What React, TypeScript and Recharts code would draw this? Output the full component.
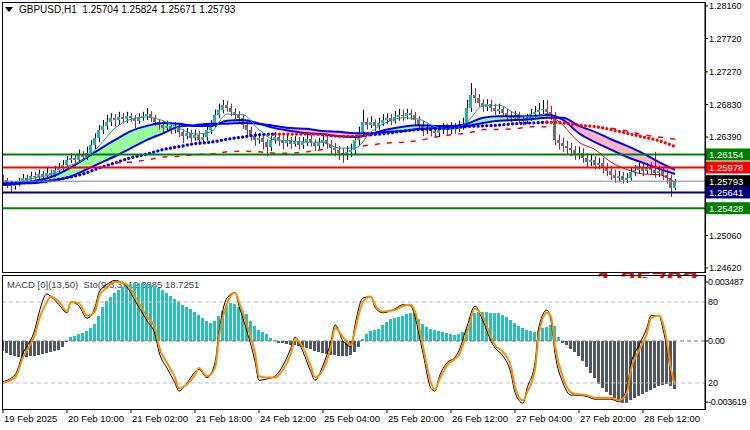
import { Area, Bar, Cell, ComposedChart, Line, ReferenceLine, XAxis, YAxis } from "recharts";

const FONT = "'Liberation Sans', Arial, sans-serif";

// GBPUSD H1, bar 0 = 19 Feb 18:00, one bar per hour
const firstOpen = 1.2584;
const closes = [
  1.2581, 1.2577, 1.2573, 1.2576, 1.258, 1.2584, 1.2581, 1.2586, 1.2585, 1.2589,
  1.2586, 1.259, 1.2588, 1.2595, 1.2597, 1.2601, 1.2608, 1.2611, 1.2608, 1.2615,
  1.2612, 1.2617, 1.2628, 1.2638, 1.2649, 1.2654, 1.2659, 1.2665, 1.2662, 1.2666,
  1.2663, 1.2667, 1.2665, 1.2661, 1.2666, 1.2667, 1.267, 1.2665, 1.2659, 1.2655,
  1.2651, 1.2654, 1.2649, 1.2653, 1.2646, 1.264, 1.2644, 1.2638, 1.2642, 1.2635,
  1.2639, 1.2649, 1.2655, 1.2669, 1.2676, 1.2682, 1.2678, 1.2673, 1.2669, 1.2665,
  1.2655, 1.2649, 1.264, 1.2635, 1.2638, 1.2632, 1.2626, 1.2635, 1.2639, 1.2635,
  1.2631, 1.2635, 1.263, 1.2634, 1.2628, 1.2632, 1.2636, 1.2631, 1.2627, 1.2631,
  1.2635, 1.263, 1.2624, 1.2622, 1.2617, 1.2615, 1.2619, 1.2622, 1.2635, 1.2646,
  1.2659, 1.2655, 1.2659, 1.2654, 1.2658, 1.2662, 1.2665, 1.2661, 1.2666, 1.2669,
  1.2667, 1.2671, 1.2669, 1.2662, 1.2655, 1.2649, 1.2651, 1.2647, 1.2644, 1.2649,
  1.2651, 1.2649, 1.2653, 1.265, 1.2654, 1.2657, 1.2678, 1.2696, 1.2692, 1.2685,
  1.268, 1.2684, 1.2678, 1.2674, 1.2677, 1.2671, 1.2667, 1.2665, 1.2669, 1.2663,
  1.2661, 1.2665, 1.267, 1.2673, 1.2676, 1.2677, 1.2673, 1.2667, 1.2635, 1.2631,
  1.2627, 1.2624, 1.2622, 1.2616, 1.2617, 1.2611, 1.2605, 1.2608, 1.2601, 1.2604,
  1.2597, 1.2593, 1.2588, 1.2584, 1.2586, 1.2581, 1.2584, 1.2592, 1.2595, 1.2597,
  1.2593, 1.2597, 1.2595, 1.259, 1.2593, 1.2588, 1.2584, 1.25704, 1.25793,
];
const highs = [
  1.2588, 1.2584, 1.258, 1.2578, 1.2584, 1.2589, 1.2588, 1.2592, 1.2592, 1.2595,
  1.2593, 1.2597, 1.2595, 1.26, 1.2604, 1.2608, 1.2613, 1.2617, 1.2615, 1.2622,
  1.262, 1.2626, 1.2635, 1.2644, 1.2655, 1.2662, 1.2669, 1.2671, 1.267, 1.2673,
  1.2671, 1.2673, 1.2671, 1.2669, 1.2671, 1.2673, 1.2678, 1.2674, 1.2669, 1.2663,
  1.2661, 1.2661, 1.2658, 1.2659, 1.2657, 1.265, 1.2651, 1.2649, 1.2649, 1.2647,
  1.2644, 1.2654, 1.2662, 1.2676, 1.2684, 1.2689, 1.2688, 1.2684, 1.2678, 1.2674,
  1.267, 1.2661, 1.2653, 1.2646, 1.2644, 1.2643, 1.2636, 1.264, 1.2646, 1.2644,
  1.264, 1.2642, 1.2639, 1.264, 1.2639, 1.2639, 1.2643, 1.2642, 1.2636, 1.2638,
  1.2643, 1.264, 1.2635, 1.2631, 1.2627, 1.2624, 1.2627, 1.263, 1.2642, 1.2653,
  1.2676, 1.2665, 1.2667, 1.2663, 1.2665, 1.267, 1.2671, 1.267, 1.2674, 1.2677,
  1.2676, 1.2677, 1.2676, 1.2673, 1.2667, 1.2661, 1.2657, 1.2655, 1.2653, 1.2654,
  1.2658, 1.2657, 1.2659, 1.2658, 1.2661, 1.2665, 1.2689, 1.2712, 1.2705, 1.2697,
  1.269, 1.269, 1.2689, 1.2684, 1.2684, 1.2681, 1.2677, 1.2673, 1.2674, 1.2673,
  1.2669, 1.267, 1.2677, 1.2681, 1.2685, 1.2689, 1.2689, 1.2681, 1.2673, 1.2642,
  1.2638, 1.2634, 1.2631, 1.2627, 1.2626, 1.2624, 1.2617, 1.2615, 1.2613, 1.2611,
  1.2611, 1.2604, 1.26, 1.2595, 1.2593, 1.2592, 1.259, 1.2597, 1.2601, 1.2604,
  1.2603, 1.2604, 1.2605, 1.2619, 1.26, 1.2599, 1.2595, 1.2588, 1.25824,
];
const lows = [
  1.2576, 1.257, 1.2565, 1.2568, 1.2573, 1.2576, 1.2577, 1.2578, 1.258, 1.2581,
  1.2581, 1.2582, 1.2584, 1.2585, 1.259, 1.2593, 1.2599, 1.2604, 1.2603, 1.2604,
  1.2607, 1.2608, 1.2613, 1.2623, 1.2632, 1.2643, 1.2649, 1.2654, 1.2653, 1.2655,
  1.2657, 1.2658, 1.2659, 1.2651, 1.2657, 1.2661, 1.2662, 1.2659, 1.2654, 1.2649,
  1.2644, 1.2647, 1.2643, 1.2644, 1.2639, 1.2631, 1.2636, 1.2632, 1.2634, 1.2628,
  1.263, 1.2634, 1.2643, 1.2651, 1.2665, 1.2671, 1.2673, 1.2667, 1.2663, 1.2659,
  1.265, 1.2642, 1.2634, 1.2627, 1.263, 1.2622, 1.2613, 1.262, 1.263, 1.2627,
  1.2622, 1.2626, 1.2623, 1.2626, 1.2622, 1.2623, 1.2627, 1.2626, 1.262, 1.2622,
  1.2626, 1.2623, 1.2616, 1.2613, 1.2608, 1.2604, 1.2608, 1.2612, 1.2616, 1.2628,
  1.2642, 1.2649, 1.2651, 1.2647, 1.2649, 1.2654, 1.2657, 1.2655, 1.2657, 1.2661,
  1.2661, 1.2663, 1.2662, 1.2655, 1.2649, 1.264, 1.2643, 1.264, 1.2638, 1.2639,
  1.2643, 1.2642, 1.2643, 1.2643, 1.2646, 1.2649, 1.2653, 1.2673, 1.2685, 1.268,
  1.2673, 1.2674, 1.2673, 1.2669, 1.267, 1.2666, 1.2662, 1.2659, 1.2661, 1.2658,
  1.2655, 1.2657, 1.2661, 1.2665, 1.2667, 1.267, 1.2667, 1.2662, 1.2628, 1.2622,
  1.2619, 1.2616, 1.2613, 1.2608, 1.2609, 1.2604, 1.2597, 1.26, 1.2595, 1.2596,
  1.259, 1.2586, 1.2581, 1.2577, 1.2578, 1.2576, 1.2577, 1.258, 1.2586, 1.2589,
  1.2586, 1.2589, 1.2588, 1.2584, 1.2585, 1.2581, 1.2576, 1.2558, 1.25671,
];

// indicator samples every 4 bars
const maIdx = [
  0, 4, 8, 12, 16, 20, 24, 28, 32, 36, 40, 44, 48, 52, 56, 60, 64, 68, 72, 76, 80, 84,
  88, 92, 96, 100, 104, 108, 112, 116, 120, 124, 128, 132, 136, 140, 144, 148, 152, 156,
  160, 164, 168,
];
const fastMa = [
  1.2578, 1.2578, 1.2584, 1.2588, 1.2599, 1.2608, 1.2627, 1.2651, 1.2663, 1.2666,
  1.2661, 1.2651, 1.2643, 1.2646, 1.267, 1.2669, 1.2649, 1.2635, 1.2634, 1.2632,
  1.2632, 1.2624, 1.2624, 1.2646, 1.2659, 1.2665, 1.2663, 1.2653, 1.265, 1.2659,
  1.2681, 1.2682, 1.2671, 1.2666, 1.2671, 1.2655, 1.2632, 1.2622, 1.2605, 1.2595,
  1.2589, 1.2588, 1.2578,
];
const cloudFast = [
  1.2577, 1.2577, 1.258, 1.2585, 1.2595, 1.2608, 1.2622, 1.2635, 1.2647, 1.2654,
  1.2658, 1.2657, 1.2654, 1.2654, 1.2661, 1.2662, 1.2657, 1.2651, 1.2647, 1.2644,
  1.2643, 1.264, 1.2639, 1.2643, 1.2649, 1.2653, 1.2655, 1.2654, 1.2654, 1.2657,
  1.2665, 1.2667, 1.2667, 1.2667, 1.2669, 1.2662, 1.2644, 1.2632, 1.2622, 1.2612,
  1.2604, 1.2596, 1.2589,
];
const cloudSlow = [
  1.2574, 1.2576, 1.2577, 1.258, 1.2584, 1.2593, 1.2603, 1.2613, 1.2624, 1.2635,
  1.2644, 1.2653, 1.2655, 1.2657, 1.2657, 1.2658, 1.2657, 1.2654, 1.2651, 1.265,
  1.2647, 1.2646, 1.2644, 1.2644, 1.2646, 1.2647, 1.265, 1.2651, 1.2653, 1.2654,
  1.2658, 1.2661, 1.2662, 1.2663, 1.2665, 1.2665, 1.2654, 1.2646, 1.2636, 1.2627,
  1.2617, 1.2605, 1.2595,
];
const slowMa = [
  1.2576, 1.2577, 1.2578, 1.258, 1.2584, 1.2589, 1.2597, 1.2604, 1.2611, 1.2616,
  1.2622, 1.2626, 1.263, 1.2632, 1.2636, 1.2639, 1.2642, 1.2643, 1.2643, 1.2643,
  1.2642, 1.264, 1.264, 1.2642, 1.2644, 1.2647, 1.2649, 1.265, 1.2651, 1.2653,
  1.2654, 1.2655, 1.2657, 1.2658, 1.2659, 1.2658, 1.2655, 1.2653, 1.2649, 1.2644,
  1.2639, 1.2634, 1.2626,
];
const stopIdx1 = [28, 32, 36, 40, 44, 48, 52, 56, 60, 64, 68, 72, 76, 80];
const stopVals1 = [1.2604, 1.2605, 1.2608, 1.2612, 1.2613, 1.2615, 1.2616, 1.2619, 1.262, 1.2619, 1.2617, 1.2617, 1.2619, 1.2622];
const stopIdx2 = [90, 96, 100, 104, 108, 112, 116, 120, 124, 128, 132, 136];
const stopVals2 = [1.2627, 1.2631, 1.2632, 1.2634, 1.2639, 1.2642, 1.2644, 1.2649, 1.2649, 1.265, 1.2653, 1.2653];
const stopIdx3 = [152, 156, 160, 164, 168];
const stopVals3 = [1.2651, 1.2647, 1.2642, 1.2639, 1.2636];

const levelPrices = [1.26154, 1.25978, 1.25641, 1.25428];
const levelColors = ["#008000", "#FF0000", "#000080", "#008000"];
const lastPrice = 1.25793;
const priceTicks = [1.2816, 1.2772, 1.2727, 1.2683, 1.2639, 1.2506, 1.2462];

// MACD(13,50) histogram, one value per bar
const macdHist = [
  -0.00059, -0.00071, -0.00083, -0.00089, -0.00095, -0.00095, -0.00095, -0.00089, -0.00089, -0.00083,
  -0.00077, -0.00071, -0.00065, -0.00059, -0.00053, -0.00035, -0.00006, 0.00024, 0.0003, 0.00041,
  0.00047, 0.00059, 0.00077, 0.001, 0.00148, 0.00201, 0.00236, 0.0026, 0.00284, 0.00301,
  0.00319, 0.00331, 0.00337, 0.00343, 0.00343, 0.00343, 0.00337, 0.00331, 0.00325, 0.00313,
  0.00301, 0.00284, 0.00266, 0.00248, 0.00236, 0.00213, 0.00201, 0.00189, 0.00171, 0.00154,
  0.00136, 0.00118, 0.00106, 0.00118, 0.00148, 0.00177, 0.00213, 0.00225, 0.00219, 0.00201,
  0.00177, 0.0016, 0.00118, 0.00089, 0.00065, 0.00053, 0.00041, 0.00018, 0.00006, -0.00012,
  -0.00012, -0.00018, -0.00024, -0.00024, -0.0003, -0.00035, -0.00041, -0.00047, -0.00059, -0.00065,
  -0.00071, -0.00077, -0.00083, -0.00083, -0.00089, -0.00089, -0.00089, -0.00083, -0.00065, -0.00035,
  0.00012, 0.00041, 0.00059, 0.00065, 0.00071, 0.00095, 0.00112, 0.0013, 0.00136, 0.00142,
  0.00148, 0.0016, 0.00165, 0.00165, 0.0013, 0.001, 0.00083, 0.00071, 0.00065, 0.00059,
  0.00053, 0.00047, 0.00041, 0.00035, 0.00041, 0.00053, 0.00071, 0.00142, 0.00165, 0.00171,
  0.00171, 0.00171, 0.00165, 0.00165, 0.00165, 0.00154, 0.00142, 0.00124, 0.00106, 0.00089,
  0.00077, 0.00065, 0.00059, 0.00053, 0.00065, 0.00077, 0.00083, 0.00095, 0.00089, 0.00024,
  -0.00012, -0.00024, -0.00047, -0.00065, -0.00089, -0.00118, -0.00154, -0.00189, -0.00219, -0.00254,
  -0.00278, -0.00301, -0.00319, -0.00337, -0.00355, -0.00366, -0.00366, -0.00349, -0.00337, -0.00325,
  -0.00313, -0.00301, -0.0029, -0.00278, -0.00266, -0.0026, -0.00254, -0.00266, -0.00284,
];

// Stochastic(9,3,3): main and signal read at the same bars
const stoIdx = [
  0, 3, 5, 8, 9, 11, 12, 14, 16, 17, 19, 21, 23, 24, 26, 28, 31, 33, 34, 36, 38, 39, 41, 43, 44,
  46, 48, 49, 51, 53, 54, 56, 58, 59, 61, 63, 64, 66, 68, 70, 72, 73, 75, 77, 78, 80, 82, 83, 85,
  87, 88, 90, 92, 93, 95, 98, 100, 102, 103, 105, 107, 108, 109, 111, 113, 114, 116, 118, 120, 122,
  123, 125, 127, 128, 130, 131, 133, 134, 136, 137, 138, 140, 142, 143, 146, 148, 152, 154, 156,
  157, 159, 161, 162, 164, 165, 166, 167, 168,
];
const stoMain = [
  21, 26, 42, 60, 72, 86, 84, 78, 72, 80, 77, 68, 76, 87, 93, 96, 91, 81, 76, 66, 56, 43, 31, 20, 14,
  20, 28, 30, 24, 35, 58, 83, 87, 77, 58, 36, 22, 23, 25, 33, 46, 54, 43, 28, 22, 33, 51, 63, 51,
  47, 63, 83, 84, 76, 72, 75, 78, 77, 69, 42, 16, 14, 24, 35, 39, 44, 62, 77, 66, 51,
  46, 40, 27, 13, 5, 16, 35, 62, 74, 66, 42, 20, 11, 11, 10, 8, 8, 6, 17,
  34, 48, 61, 70, 70, 60, 45, 27, 19.4,
];
const stoSignal = [
  20, 24, 39, 56, 67, 80, 84, 80, 73, 80, 79, 70, 73, 84, 91, 95, 93, 84, 79, 69, 61, 47, 35, 24, 16,
  19, 26, 31, 25, 31, 54, 79, 87, 80, 63, 42, 25, 24, 24, 30, 42, 53, 46, 32, 24, 30, 47, 61, 54,
  48, 59, 80, 84, 78, 73, 74, 77, 78, 73, 47, 20, 15, 22, 33, 38, 41, 57, 75, 69, 54,
  48, 43, 32, 17, 7, 13, 30, 57, 72, 69, 47, 24, 13, 12, 11, 9, 9, 7, 13,
  30, 44, 57, 68, 70, 64, 50, 30, 18.7,
];

const dateTicks = [0, 16, 32, 48, 64, 80, 96, 112, 128, 144, 160];
const dateLabels = [
  "19 Feb 2025", "20 Feb 10:00", "21 Feb 02:00", "21 Feb 18:00", "24 Feb 12:00", "25 Feb 04:00",
  "25 Feb 20:00", "26 Feb 12:00", "27 Feb 04:00", "27 Feb 20:00", "28 Feb 12:00",
];

const candles = closes.map((close, i) => ({
  i,
  open: i === 0 ? firstOpen : closes[i - 1],
  close,
  high: highs[i],
  low: lows[i],
  range: [lows[i], highs[i]],
}));
const hist = macdHist.map((v, i) => ({ i, v }));
const pairs = (idx: number[], vals: number[]) => idx.map((i, k) => ({ i, v: vals[k] }));
const sampled = (vals: number[], from: number, to: number) =>
  pairs(maIdx, vals).filter((p) => p.i >= from && p.i <= to);
const cloud = maIdx.map((i, k) => {
  const a = cloudFast[k];
  const b = cloudSlow[k];
  return { i, up: a >= b ? [b, a] : [a, a], dn: a < b ? [a, b] : [a, a] };
});

const X_DOMAIN: [number, number] = [-0.25, 175.5];
const tickStyle = { fontSize: 9, fill: "#000", fontFamily: FONT };

function Candle(props: any) {
  const { x, y, width, height, payload } = props;
  if (x == null || !payload) return null;
  const top = Math.min(y, y + height);
  const h = Math.abs(height);
  const { open, close, high, low } = payload;
  const up = close >= open;
  const span = high - low || 1e-9;
  const yOf = (v: number) => top + ((high - v) / span) * h;
  const bTop = yOf(Math.max(open, close));
  const bBot = yOf(Math.min(open, close));
  const cx = Math.round(x + width / 2) + 0.5;
  return (
    <g>
      <line x1={cx} x2={cx} y1={top} y2={top + h} stroke={up ? "#000" : "#B5173A"} strokeWidth={1} />
      <rect
        x={Math.round(x)}
        y={bTop}
        width={3}
        height={Math.max(1, bBot - bTop)}
        fill={up ? "#20B2AA" : "#6E6E6E"}
        shapeRendering="crispEdges"
      />
    </g>
  );
}

function PriceTag({ viewBox, text, color }: any) {
  const x = viewBox.x + viewBox.width;
  const y = viewBox.y;
  return (
    <g>
      <rect x={x + 1} y={y - 6} width={44} height={12} fill={color} />
      <text x={x + 4} y={y + 3.5} fill="#fff" fontSize={9.5} fontFamily={FONT}>
        {text}
      </text>
    </g>
  );
}

function SideLabel({ viewBox, text }: any) {
  const x = viewBox.x + viewBox.width;
  return (
    <text x={x + 3} y={viewBox.y + 3.5} fill="#000" fontSize={9} fontFamily={FONT}>
      {text}
    </text>
  );
}

function DateTick({ x, y, payload }: any) {
  const k = dateTicks.indexOf(payload.value);
  return (
    <g>
      <line x1={x} x2={x} y1={y} y2={y + 4} stroke="#000" />
      <text x={x + 1} y={y + 13} fill="#000" fontSize={9.5} fontFamily={FONT}>
        {dateLabels[k]}
      </text>
    </g>
  );
}

function MacdTick({ x, y, payload }: any) {
  const v = payload.value;
  return (
    <text x={x} y={y + 3.2} fill="#000" fontSize={9} fontFamily={FONT} letterSpacing={-0.25}>
      {v === 0 ? "0.00" : v.toFixed(6)}
    </text>
  );
}

const dotStyle = { strokeWidth: 3.2, strokeDasharray: "0.1 4.2", strokeLinecap: "round" as const };

export default function App() {
  return (
    <div style={{ position: "absolute", left: 0, top: 0, width: 750, height: 430, background: "#fff", overflow: "hidden" }}>
      <div style={{ position: "absolute", left: 5, top: 4, display: "flex", alignItems: "center", font: `10px ${FONT}`, color: "#000", whiteSpace: "pre" }}>
        <svg width={9} height={6} style={{ marginRight: 5 }}>
          <polygon points="0,0 8,0 4,5" fill="#000" />
        </svg>
        GBPUSD,H1  1.25704 1.25824 1.25671 1.25793
      </div>
      <div style={{ position: "absolute", left: 7, top: 279, font: `9.5px ${FONT}`, color: "#3A4050", whiteSpace: "pre" }}>
        MACD [0](13,50)  Sto(9,3,3) 19.3885 18.7251
      </div>

      <div style={{ position: "absolute", left: 0, top: 0 }}>
        <ComposedChart width={750} height={272} data={candles} margin={{ top: 2, right: 0, bottom: 0, left: 2 }}>
          <XAxis dataKey="i" type="number" domain={X_DOMAIN} allowDataOverflow hide />
          <YAxis
            orientation="right"
            width={45}
            domain={[1.24566, 1.28214]}
            allowDataOverflow
            ticks={priceTicks}
            interval={0}
            tickFormatter={(v: number) => v.toFixed(5)}
            tick={tickStyle}
            tickSize={3}
            tickMargin={1}
            axisLine={{ stroke: "#000" }}
            tickLine={{ stroke: "#000" }}
          />
          <Area data={cloud} dataKey="up" type="monotone" stroke="none" fill="#98FB98" fillOpacity={1} isAnimationActive={false} />
          <Area data={cloud} dataKey="dn" type="monotone" stroke="none" fill="#FFB6C1" fillOpacity={1} isAnimationActive={false} />
          <Bar dataKey="range" barSize={3} isAnimationActive={false} shape={(p: any) => <Candle {...p} />} />
          <Line data={pairs(maIdx, cloudFast)} dataKey="v" type="monotone" stroke="#0000FF" strokeWidth={2} dot={false} activeDot={false} isAnimationActive={false} />
          <Line data={pairs(maIdx, cloudSlow)} dataKey="v" type="monotone" stroke="#0000FF" strokeWidth={2} dot={false} activeDot={false} isAnimationActive={false} />
          <Line data={sampled(fastMa, 0, 136)} dataKey="v" type="monotone" stroke="#1A9C8C" strokeWidth={1} dot={false} activeDot={false} isAnimationActive={false} />
          <Line data={sampled(fastMa, 136, 168)} dataKey="v" type="monotone" stroke="#FF0000" strokeWidth={1} dot={false} activeDot={false} isAnimationActive={false} />
          <Line data={sampled(slowMa, 0, 68)} dataKey="v" type="monotone" stroke="#0000FF" {...dotStyle} dot={false} activeDot={false} isAnimationActive={false} />
          <Line data={sampled(slowMa, 68, 92)} dataKey="v" type="monotone" stroke="#FF0000" {...dotStyle} dot={false} activeDot={false} isAnimationActive={false} />
          <Line data={sampled(slowMa, 92, 136)} dataKey="v" type="monotone" stroke="#0000FF" {...dotStyle} dot={false} activeDot={false} isAnimationActive={false} />
          <Line data={sampled(slowMa, 136, 168)} dataKey="v" type="monotone" stroke="#FF0000" {...dotStyle} dot={false} activeDot={false} isAnimationActive={false} />
          <Line data={pairs(stopIdx1, stopVals1)} dataKey="v" type="linear" stroke="#FF0000" strokeWidth={1.5} strokeDasharray="5 7" dot={false} activeDot={false} isAnimationActive={false} />
          <Line data={pairs(stopIdx2, stopVals2)} dataKey="v" type="linear" stroke="#FF0000" strokeWidth={1.5} strokeDasharray="5 7" dot={false} activeDot={false} isAnimationActive={false} />
          <Line data={pairs(stopIdx3, stopVals3)} dataKey="v" type="linear" stroke="#FF0000" strokeWidth={1.5} strokeDasharray="5 7" dot={false} activeDot={false} isAnimationActive={false} />
          <ReferenceLine y={lastPrice} stroke="#778899" strokeWidth={1} label={<PriceTag text={lastPrice.toFixed(5)} color="#000" />} />
          {levelPrices.map((p, k) => (
            <ReferenceLine key={p} y={p} stroke={levelColors[k]} strokeWidth={2} label={<PriceTag text={p.toFixed(5)} color={levelColors[k]} />} />
          ))}
        </ComposedChart>
      </div>

      <div style={{ position: "absolute", left: 0, top: 273 }}>
        <ComposedChart width={750} height={157} data={hist} margin={{ top: 2, right: 0, bottom: 0, left: 2 }}>
          <XAxis
            dataKey="i"
            type="number"
            domain={X_DOMAIN}
            allowDataOverflow
            ticks={dateTicks}
            interval={0}
            tick={<DateTick />}
            tickLine={false}
            tickSize={0}
            tickMargin={0}
            axisLine={false}
            height={21}
          />
          <YAxis
            yAxisId="macd"
            orientation="right"
            width={45}
            domain={[-0.00402, 0.0039]}
            allowDataOverflow
            ticks={[-0.003619, 0, 0.003487]}
            interval={0}
            tick={<MacdTick />}
            tickSize={3}
            tickMargin={0}
            axisLine={{ stroke: "#000" }}
            tickLine={{ stroke: "#000" }}
          />
          <YAxis yAxisId="sto" hide domain={[0.7, 100]} allowDataOverflow />
          <ReferenceLine yAxisId="sto" y={80} stroke="#BDBDBD" strokeDasharray="4 3" label={<SideLabel text="80" />} />
          <ReferenceLine yAxisId="sto" y={20} stroke="#BDBDBD" strokeDasharray="4 3" label={<SideLabel text="20" />} />
          <ReferenceLine yAxisId="macd" y={0} stroke="#7A7A7A" strokeDasharray="4 3" />
          <Bar yAxisId="macd" dataKey="v" barSize={3} isAnimationActive={false}>
            {hist.map((d) => (
              <Cell key={d.i} fill={d.v >= 0 ? "#26C2B8" : "#4E5763"} />
            ))}
          </Bar>
          <Line yAxisId="sto" data={pairs(stoIdx, stoMain)} dataKey="v" type="monotone" stroke="#000" strokeWidth={1} dot={false} activeDot={false} isAnimationActive={false} />
          <Line yAxisId="sto" data={pairs(stoIdx, stoSignal)} dataKey="v" type="monotone" stroke="#FF8C00" strokeWidth={2} dot={false} activeDot={false} isAnimationActive={false} />
        </ComposedChart>
      </div>

      {/* big red price text, almost fully hidden behind the MACD window */}
      <div style={{ position: "absolute", left: 597, top: 272, width: 106, height: 6, overflow: "hidden", pointerEvents: "none" }}>
        <div style={{ position: "absolute", left: 0, top: -7, font: `bold 28px ${FONT}`, color: "#FF0000", lineHeight: "32px", whiteSpace: "pre" }}>
          1.25793
        </div>
      </div>

      <div style={{ position: "absolute", left: 2, top: 2, width: 704, height: 271, boxSizing: "border-box", border: "1px solid #000", pointerEvents: "none" }} />
      <div style={{ position: "absolute", left: 2, top: 275, width: 704, height: 135, boxSizing: "border-box", border: "1px solid #000", pointerEvents: "none" }} />
    </div>
  );
}
